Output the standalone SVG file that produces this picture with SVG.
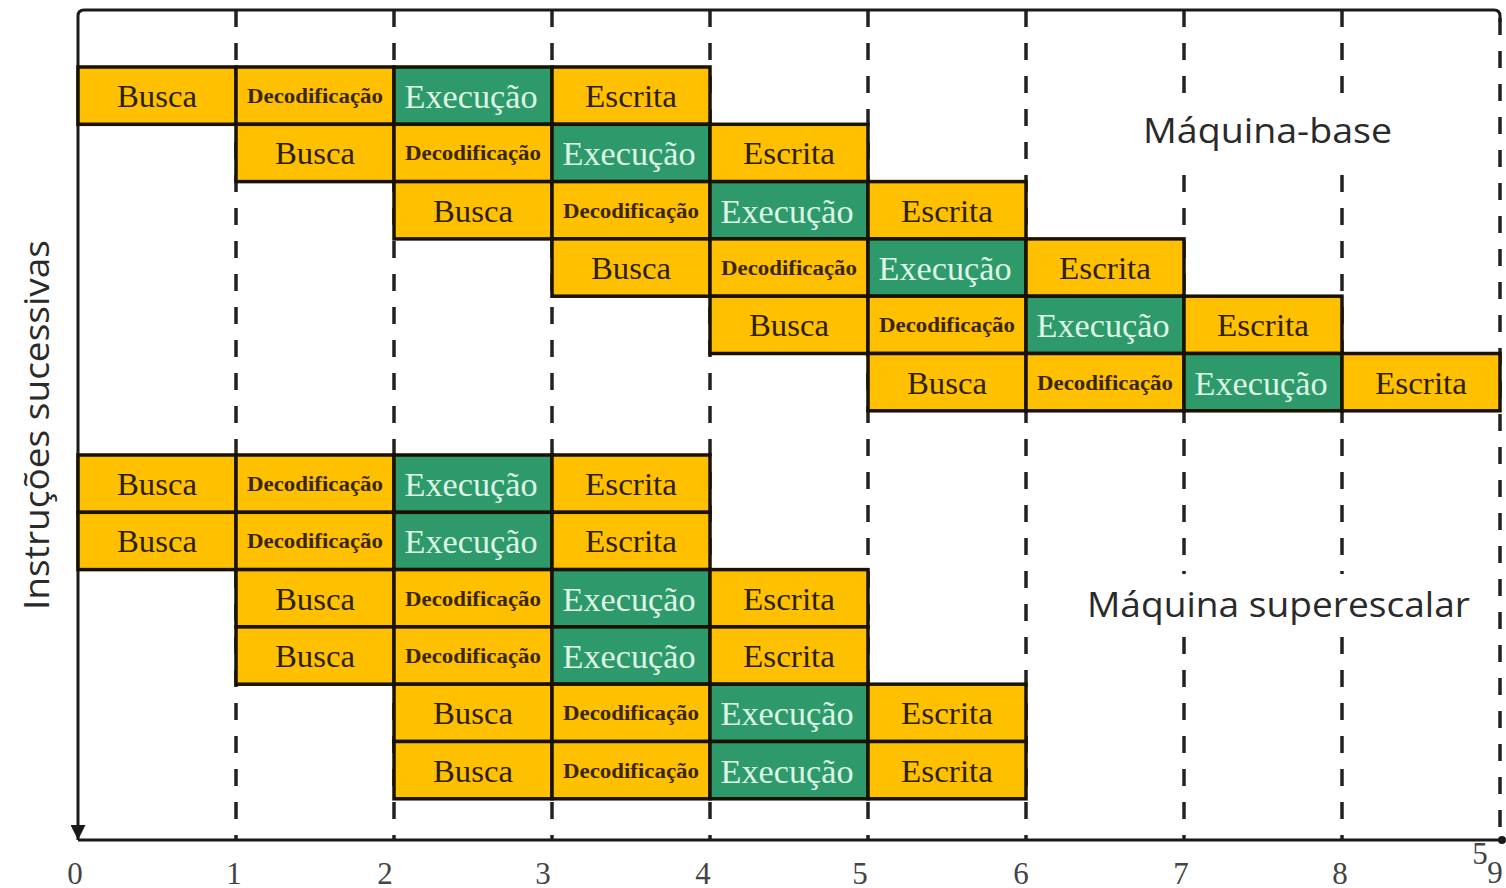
<svg xmlns="http://www.w3.org/2000/svg" width="1506" height="888" viewBox="0 0 1506 888">
<defs>
<style>
.c{stroke:#1a1200;stroke-width:3.5}
.o{fill:#FFC000}
.g{fill:#2E9A6C}
.t{font-family:"Liberation Serif","Times New Roman",serif;text-anchor:middle}
.tb{font-size:32px;fill:#2e1f00}
.tx{font-size:33px;fill:#DDF5E4}
.td{font-size:20px;font-weight:bold;fill:#3a2600}
.grid{stroke:#222;stroke-width:3.5;stroke-dasharray:17 16;fill:none}
.axis{stroke:#1a1a1a;stroke-width:3;fill:none}
.lab{font-family:"Open Sans","Liberation Sans",sans-serif;fill:#2a2a2a}
.num{font-family:"Liberation Serif","Times New Roman",serif;font-size:31px;fill:#444;text-anchor:middle}
</style>
<marker id="ah" viewBox="0 0 10 10" refX="10" refY="5" markerWidth="5" markerHeight="5" orient="auto"><path d="M0,0 L10,5 L0,10 z" fill="#1a1a1a"/></marker>
</defs>
<rect width="1506" height="888" fill="#fff"/>

<g id="connectors">
<g id="grid">
<line class="grid" x1="236" y1="10" x2="236" y2="840"/>
<line class="grid" x1="394" y1="10" x2="394" y2="840"/>
<line class="grid" x1="552" y1="10" x2="552" y2="840"/>
<line class="grid" x1="710" y1="10" x2="710" y2="840"/>
<line class="grid" x1="868" y1="10" x2="868" y2="840"/>
<line class="grid" x1="1026" y1="10" x2="1026" y2="840"/>
<line class="grid" x1="1184" y1="10" x2="1184" y2="840"/>
<line class="grid" x1="1342" y1="10" x2="1342" y2="840"/>
<line class="grid" x1="1500" y1="18" x2="1500" y2="840"/>
</g>
<g id="axes">
<path class="axis" d="M1500,22 L1500,16 Q1500,10 1494,10 L84,10 Q78,10 78,16 L78,840" marker-end="url(#ah)"/>
<line class="axis" x1="78" y1="840" x2="1500" y2="840"/>
<circle cx="1502" cy="840" r="4" fill="#1a1a1a"/>
</g>
</g>

<g id="base-i1">
<rect class="c o" x="78" y="67" width="158" height="57.3"/><text class="t tb" x="157" y="107" textLength="80" lengthAdjust="spacingAndGlyphs">Busca</text>
<rect class="c o" x="236" y="67" width="158" height="57.3"/><text class="t td" x="315" y="103" textLength="136" lengthAdjust="spacingAndGlyphs">Decodificação</text>
<rect class="c g" x="394" y="67" width="158" height="57.3"/><text class="t tx" x="471" y="108" textLength="133" lengthAdjust="spacingAndGlyphs">Execução</text>
<rect class="c o" x="552" y="67" width="158" height="57.3"/><text class="t tb" x="631" y="107" textLength="92" lengthAdjust="spacingAndGlyphs">Escrita</text>
</g>
<g id="base-i2">
<rect class="c o" x="236" y="124.3" width="158" height="57.3"/><text class="t tb" x="315" y="164.3" textLength="80" lengthAdjust="spacingAndGlyphs">Busca</text>
<rect class="c o" x="394" y="124.3" width="158" height="57.3"/><text class="t td" x="473" y="160.3" textLength="136" lengthAdjust="spacingAndGlyphs">Decodificação</text>
<rect class="c g" x="552" y="124.3" width="158" height="57.3"/><text class="t tx" x="629" y="165.3" textLength="133" lengthAdjust="spacingAndGlyphs">Execução</text>
<rect class="c o" x="710" y="124.3" width="158" height="57.3"/><text class="t tb" x="789" y="164.3" textLength="92" lengthAdjust="spacingAndGlyphs">Escrita</text>
</g>
<g id="base-i3">
<rect class="c o" x="394" y="181.6" width="158" height="57.3"/><text class="t tb" x="473" y="221.6" textLength="80" lengthAdjust="spacingAndGlyphs">Busca</text>
<rect class="c o" x="552" y="181.6" width="158" height="57.3"/><text class="t td" x="631" y="217.6" textLength="136" lengthAdjust="spacingAndGlyphs">Decodificação</text>
<rect class="c g" x="710" y="181.6" width="158" height="57.3"/><text class="t tx" x="787" y="222.6" textLength="133" lengthAdjust="spacingAndGlyphs">Execução</text>
<rect class="c o" x="868" y="181.6" width="158" height="57.3"/><text class="t tb" x="947" y="221.6" textLength="92" lengthAdjust="spacingAndGlyphs">Escrita</text>
</g>
<g id="base-i4">
<rect class="c o" x="552" y="238.9" width="158" height="57.3"/><text class="t tb" x="631" y="278.9" textLength="80" lengthAdjust="spacingAndGlyphs">Busca</text>
<rect class="c o" x="710" y="238.9" width="158" height="57.3"/><text class="t td" x="789" y="274.9" textLength="136" lengthAdjust="spacingAndGlyphs">Decodificação</text>
<rect class="c g" x="868" y="238.9" width="158" height="57.3"/><text class="t tx" x="945" y="279.9" textLength="133" lengthAdjust="spacingAndGlyphs">Execução</text>
<rect class="c o" x="1026" y="238.9" width="158" height="57.3"/><text class="t tb" x="1105" y="278.9" textLength="92" lengthAdjust="spacingAndGlyphs">Escrita</text>
</g>
<g id="base-i5">
<rect class="c o" x="710" y="296.2" width="158" height="57.3"/><text class="t tb" x="789" y="336.2" textLength="80" lengthAdjust="spacingAndGlyphs">Busca</text>
<rect class="c o" x="868" y="296.2" width="158" height="57.3"/><text class="t td" x="947" y="332.2" textLength="136" lengthAdjust="spacingAndGlyphs">Decodificação</text>
<rect class="c g" x="1026" y="296.2" width="158" height="57.3"/><text class="t tx" x="1103" y="337.2" textLength="133" lengthAdjust="spacingAndGlyphs">Execução</text>
<rect class="c o" x="1184" y="296.2" width="158" height="57.3"/><text class="t tb" x="1263" y="336.2" textLength="92" lengthAdjust="spacingAndGlyphs">Escrita</text>
</g>
<g id="base-i6">
<rect class="c o" x="868" y="353.5" width="158" height="57.3"/><text class="t tb" x="947" y="393.5" textLength="80" lengthAdjust="spacingAndGlyphs">Busca</text>
<rect class="c o" x="1026" y="353.5" width="158" height="57.3"/><text class="t td" x="1105" y="389.5" textLength="136" lengthAdjust="spacingAndGlyphs">Decodificação</text>
<rect class="c g" x="1184" y="353.5" width="158" height="57.3"/><text class="t tx" x="1261" y="394.5" textLength="133" lengthAdjust="spacingAndGlyphs">Execução</text>
<rect class="c o" x="1342" y="353.5" width="158" height="57.3"/><text class="t tb" x="1421" y="393.5" textLength="92" lengthAdjust="spacingAndGlyphs">Escrita</text>
</g>

<g id="super-i1">
<rect class="c o" x="78" y="455" width="158" height="57.3"/><text class="t tb" x="157" y="495" textLength="80" lengthAdjust="spacingAndGlyphs">Busca</text>
<rect class="c o" x="236" y="455" width="158" height="57.3"/><text class="t td" x="315" y="491" textLength="136" lengthAdjust="spacingAndGlyphs">Decodificação</text>
<rect class="c g" x="394" y="455" width="158" height="57.3"/><text class="t tx" x="471" y="496" textLength="133" lengthAdjust="spacingAndGlyphs">Execução</text>
<rect class="c o" x="552" y="455" width="158" height="57.3"/><text class="t tb" x="631" y="495" textLength="92" lengthAdjust="spacingAndGlyphs">Escrita</text>
</g>
<g id="super-i2">
<rect class="c o" x="78" y="512.3" width="158" height="57.3"/><text class="t tb" x="157" y="552.3" textLength="80" lengthAdjust="spacingAndGlyphs">Busca</text>
<rect class="c o" x="236" y="512.3" width="158" height="57.3"/><text class="t td" x="315" y="548.3" textLength="136" lengthAdjust="spacingAndGlyphs">Decodificação</text>
<rect class="c g" x="394" y="512.3" width="158" height="57.3"/><text class="t tx" x="471" y="553.3" textLength="133" lengthAdjust="spacingAndGlyphs">Execução</text>
<rect class="c o" x="552" y="512.3" width="158" height="57.3"/><text class="t tb" x="631" y="552.3" textLength="92" lengthAdjust="spacingAndGlyphs">Escrita</text>
</g>
<g id="super-i3">
<rect class="c o" x="236" y="569.6" width="158" height="57.3"/><text class="t tb" x="315" y="609.6" textLength="80" lengthAdjust="spacingAndGlyphs">Busca</text>
<rect class="c o" x="394" y="569.6" width="158" height="57.3"/><text class="t td" x="473" y="605.6" textLength="136" lengthAdjust="spacingAndGlyphs">Decodificação</text>
<rect class="c g" x="552" y="569.6" width="158" height="57.3"/><text class="t tx" x="629" y="610.6" textLength="133" lengthAdjust="spacingAndGlyphs">Execução</text>
<rect class="c o" x="710" y="569.6" width="158" height="57.3"/><text class="t tb" x="789" y="609.6" textLength="92" lengthAdjust="spacingAndGlyphs">Escrita</text>
</g>
<g id="super-i4">
<rect class="c o" x="236" y="626.9" width="158" height="57.3"/><text class="t tb" x="315" y="666.9" textLength="80" lengthAdjust="spacingAndGlyphs">Busca</text>
<rect class="c o" x="394" y="626.9" width="158" height="57.3"/><text class="t td" x="473" y="662.9" textLength="136" lengthAdjust="spacingAndGlyphs">Decodificação</text>
<rect class="c g" x="552" y="626.9" width="158" height="57.3"/><text class="t tx" x="629" y="667.9" textLength="133" lengthAdjust="spacingAndGlyphs">Execução</text>
<rect class="c o" x="710" y="626.9" width="158" height="57.3"/><text class="t tb" x="789" y="666.9" textLength="92" lengthAdjust="spacingAndGlyphs">Escrita</text>
</g>
<g id="super-i5">
<rect class="c o" x="394" y="684.2" width="158" height="57.3"/><text class="t tb" x="473" y="724.2" textLength="80" lengthAdjust="spacingAndGlyphs">Busca</text>
<rect class="c o" x="552" y="684.2" width="158" height="57.3"/><text class="t td" x="631" y="720.2" textLength="136" lengthAdjust="spacingAndGlyphs">Decodificação</text>
<rect class="c g" x="710" y="684.2" width="158" height="57.3"/><text class="t tx" x="787" y="725.2" textLength="133" lengthAdjust="spacingAndGlyphs">Execução</text>
<rect class="c o" x="868" y="684.2" width="158" height="57.3"/><text class="t tb" x="947" y="724.2" textLength="92" lengthAdjust="spacingAndGlyphs">Escrita</text>
</g>
<g id="super-i6">
<rect class="c o" x="394" y="741.5" width="158" height="57.3"/><text class="t tb" x="473" y="781.5" textLength="80" lengthAdjust="spacingAndGlyphs">Busca</text>
<rect class="c o" x="552" y="741.5" width="158" height="57.3"/><text class="t td" x="631" y="777.5" textLength="136" lengthAdjust="spacingAndGlyphs">Decodificação</text>
<rect class="c g" x="710" y="741.5" width="158" height="57.3"/><text class="t tx" x="787" y="782.5" textLength="133" lengthAdjust="spacingAndGlyphs">Execução</text>
<rect class="c o" x="868" y="741.5" width="158" height="57.3"/><text class="t tb" x="947" y="781.5" textLength="92" lengthAdjust="spacingAndGlyphs">Escrita</text>
</g>

<g id="label-base">
<rect x="1128" y="100" width="280" height="62" fill="#fff"/>
<text class="lab" x="1143" y="143" font-size="34" textLength="249" lengthAdjust="spacingAndGlyphs">Máquina-base</text>
</g>
<g id="label-super">
<rect x="1072" y="574" width="412" height="62" fill="#fff"/>
<text class="lab" x="1087" y="617" font-size="34" textLength="383" lengthAdjust="spacingAndGlyphs">Máquina superescalar</text>
</g>
<g id="label-y">
<text class="lab" transform="translate(49,425) rotate(-90)" x="0" y="0" font-size="35" text-anchor="middle" textLength="370" lengthAdjust="spacingAndGlyphs" fill="#3a3a3a">Instruções sucessivas</text>
</g>
<g id="ticks">
<text class="num" x="75" y="884">0</text>
<text class="num" x="234" y="884">1</text>
<text class="num" x="385" y="884">2</text>
<text class="num" x="543" y="884">3</text>
<text class="num" x="703" y="884">4</text>
<text class="num" x="860" y="884">5</text>
<text class="num" x="1021" y="884">6</text>
<text class="num" x="1181" y="884">7</text>
<text class="num" x="1340" y="884">8</text>
<text class="num" x="1480" y="864" font-size="20">5</text>
<text class="num" x="1495" y="883">9</text>
</g>
</svg>
